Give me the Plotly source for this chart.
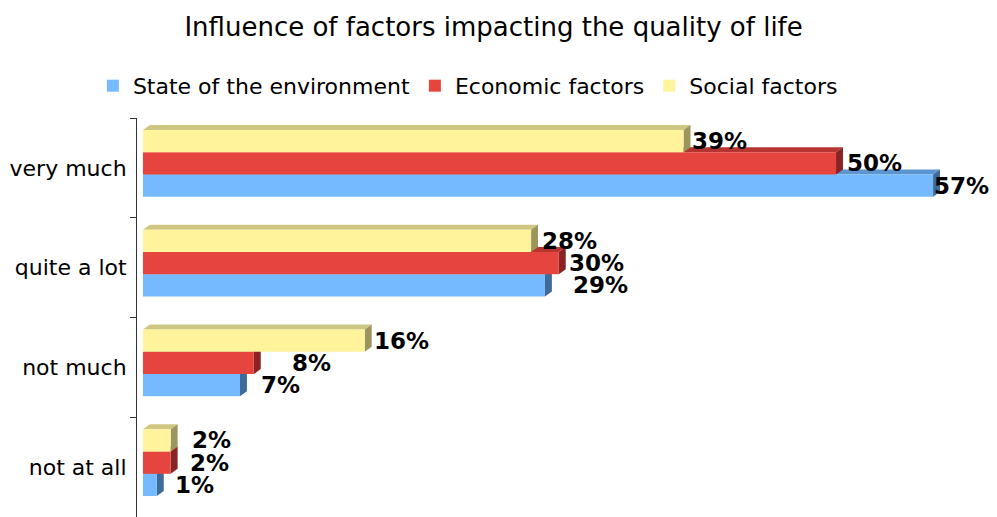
import plotly.graph_objects as go

categories = ["not at all", "not much", "quite a lot", "very much"]
series_names = ["State of the environment", "Economic factors", "Social factors"]
environment = [1, 7, 29, 57]
economic = [2, 8, 30, 50]
social = [2, 16, 28, 39]

front_colors = ["#75BAFF", "#E6453F", "#FFF39B"]
top_colors = ["#5B95CF", "#B73531", "#CFC682"]
side_colors = ["#3F6A9B", "#8A2323", "#9C965E"]

# small pixel nudges so the value labels sit where the original put them
label_nudge = [
    [9, 12, 19, -8],
    [10, 29, 1, 2],
    [12, 0, 2, 0],
]

FONT = "Verdana, DejaVu Sans, sans-serif"
bar_w = 0.223
first_offset = -0.29
dx = 0.5    # depth of the fake 3d, in % units
dy = 0.05   # depth of the fake 3d, in category units

fig = go.Figure()
shapes = []
annotations = []

for i, (name, vals) in enumerate(zip(series_names, [environment, economic, social])):
    off = first_offset + i * bar_w
    fig.add_trace(
        go.Bar(
            y=categories,
            x=vals,
            name=name,
            orientation="h",
            width=bar_w,
            offset=off,
            marker=dict(color=front_colors[i], line=dict(width=0)),
            hoverinfo="x+name",
        )
    )
    for k, v in enumerate(vals):
        yb = k + off
        yt = yb + bar_w
        # top face
        shapes.append(dict(
            type="path", xref="x", yref="y", layer="below",
            path=f"M 0 {yt} L {v} {yt} L {v + dx} {yt + dy} L {dx} {yt + dy} Z",
            fillcolor=top_colors[i], line=dict(width=0),
        ))
        # side face
        shapes.append(dict(
            type="path", xref="x", yref="y", layer="below",
            path=f"M {v} {yb} L {v} {yt} L {v + dx} {yt + dy} L {v + dx} {yb + dy} Z",
            fillcolor=side_colors[i], line=dict(width=0),
        ))
        annotations.append(dict(
            x=v + dx, y=k + off + bar_w / 2, xref="x", yref="y",
            text=f"{v}%", showarrow=False, xanchor="left", yanchor="middle",
            xshift=label_nudge[i][k],
            font=dict(family=FONT, size=23, color="#000000", weight="bold"),
        ))

# the page body adds an 8px margin, so everything is laid out 8px up/left
fig.update_layout(
    width=989,
    height=509,
    paper_bgcolor="white",
    plot_bgcolor="white",
    barmode="overlay",
    margin=dict(l=129, r=57, t=110, b=0),
    font=dict(family=FONT, size=22, color="#000000"),
    title=dict(
        text="Influence of factors impacting the quality of life",
        x=0.491, xanchor="center", y=0.963, yanchor="middle",
        font=dict(family=FONT, size=26, color="#000000"),
    ),
    legend=dict(
        orientation="h",
        xref="container", x=0.465, xanchor="center",
        yref="container", y=0.847, yanchor="middle",
        font=dict(family=FONT, size=22),
        traceorder="normal",
        itemwidth=30,
    ),
    shapes=shapes,
    annotations=annotations,
    showlegend=True,
)

fig.update_xaxes(
    range=[-0.43, 57.5],
    showgrid=False, zeroline=False, showticklabels=False, showline=False,
)
fig.update_yaxes(
    type="category",
    categoryorder="array",
    categoryarray=categories,
    range=[-0.5, 3.5],
    showgrid=False, zeroline=False,
    showline=True, linecolor="#333333", linewidth=1,
    ticks="outside", tickson="boundaries", ticklen=6, tickcolor="#333333",
    ticklabelstandoff=5,
    tickfont=dict(family=FONT, size=22),
)

fig.write_html("out.html")
